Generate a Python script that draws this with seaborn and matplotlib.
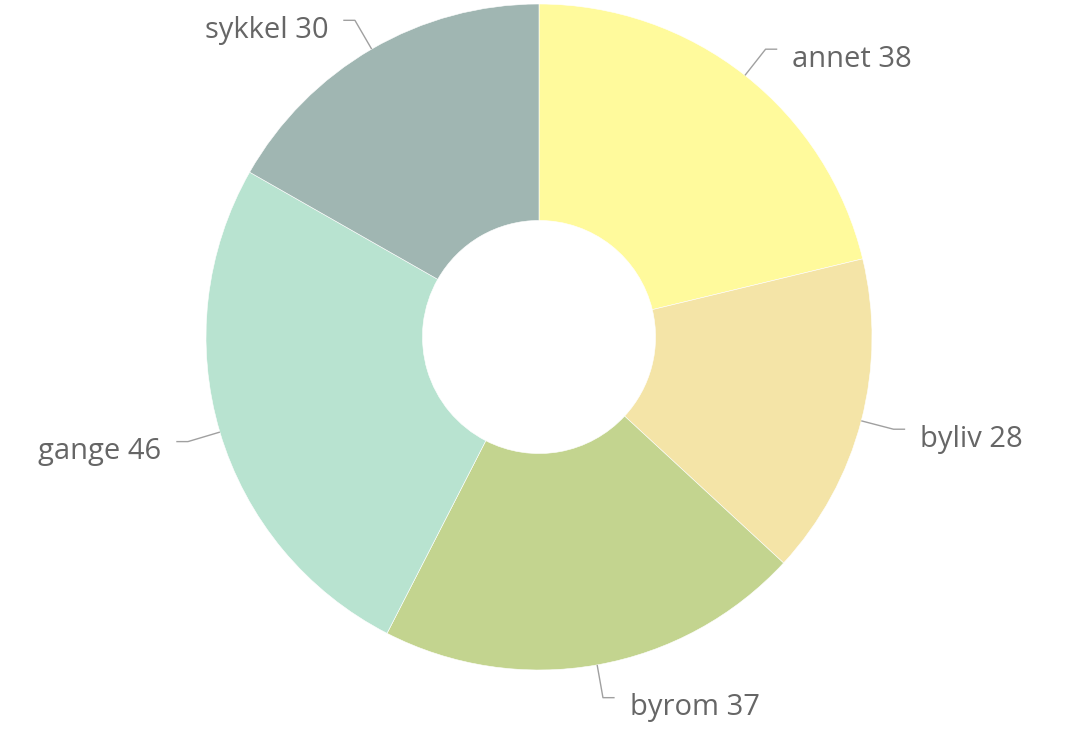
import numpy as np
import matplotlib.pyplot as plt
import seaborn as sns

# slice data, clockwise from 12 o'clock
labels = ['annet', 'byliv', 'byrom', 'gange', 'sykkel']
values = [38, 28, 37, 46, 30]
colors = ['#FFFA9C', '#F4E4A7', '#C3D48F', '#B8E3D0', '#A0B6B2']

sns.set_theme(style='white')
plt.rcParams['font.family'] = ['Open Sans', 'DejaVu Sans']

fig = plt.figure(figsize=(10.66, 7.29), dpi=100)
ax = fig.add_axes([0, 0, 1, 1])

wedges, _ = ax.pie(values, colors=colors, startangle=90, counterclock=False,
                   radius=1.0, wedgeprops=dict(width=0.65, linewidth=0.4, edgecolor='white'))

# pixel layout of the reference: centre (539, 337), radius 333
R = 333.0
cx, cy = 539.0, 337.0
ax.set_xlim(-cx / R, (1066 - cx) / R)
ax.set_ylim(-(729 - cy) / R, cy / R)
ax.set_aspect('equal')
ax.axis('off')

for w, lab, v in zip(wedges, labels, values):
    mid = np.deg2rad((w.theta1 + w.theta2) / 2)
    c, s = np.cos(mid), np.sin(mid)
    side = 1 if c >= 0 else -1
    x0, y0 = c * 1.0, s * 1.0
    x1, y1 = c * 1.1, s * 1.1
    x2 = x1 + side * 0.035
    ax.plot([x0, x1, x2], [y0, y1, y1], color='#a0a0a0', lw=1.0, solid_capstyle='butt')
    ax.text(x2 + side * 0.045, y1 - 0.03, f'{lab} {v}', ha='left' if side > 0 else 'right',
            va='center', fontsize=21, color='#666666')

fig.savefig('out.png', dpi=100, facecolor='white')
